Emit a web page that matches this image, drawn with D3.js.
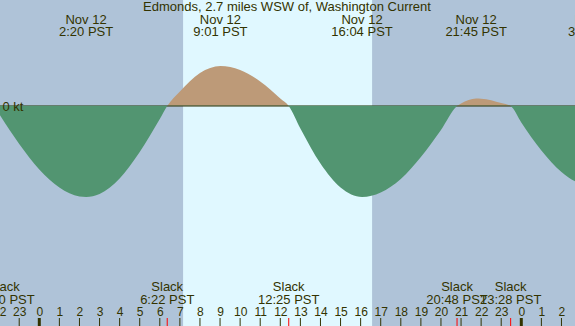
<!DOCTYPE html>
<html>
<head>
<meta charset="utf-8">
<script src="https://cdn.jsdelivr.net/npm/d3@7"></script>
<style>
  body { margin: 0; overflow: hidden; }
  text { font-family: "Liberation Sans", Arial, sans-serif; fill: #333300; }
</style>
</head>
<body>
<div id="chart"></div>
<script>
// hours since midnight Nov 12, current speed in knots
var hours  = [-2.25, -2, -1, 0, 1, 2, 2.33, 3, 4, 5, 6, 6.37, 7, 8, 9.02, 10, 11, 12, 12.42, 13, 14, 15, 16.07, 17, 18, 19, 20, 20.8, 21, 21.75, 22, 23, 23.47, 24, 25, 26, 27, 27.65, 28];
var speeds = [0, -0.16, -0.76, -1.27, -1.63, -1.81, -1.82, -1.76, -1.45, -0.92, -0.26, 0, 0.29, 0.66, 0.80, 0.72, 0.49, 0.15, 0, -0.45, -1.15, -1.63, -1.82, -1.73, -1.46, -1.02, -0.48, 0, 0.05, 0.15, 0.146, 0.06, 0, -0.33, -0.89, -1.32, -1.56, -1.6, -1.59];

// max flood / max ebb events (top labels)
var peakHours  = [2.33, 9.02, 16.07, 21.75, 27.68];
var peakDates  = ["Nov 12", "Nov 12", "Nov 12", "Nov 12", "Nov 13"];
var peakTimes  = ["2:20 PST", "9:01 PST", "16:04 PST", "21:45 PST", "3:41 PST"];

// slack events (bottom labels)
var slackHours = [-1.76, 6.37, 12.42, 20.8, 23.47];
var slackTimes = ["21:50 PST", "6:22 PST", "12:25 PST", "20:48 PST", "23:28 PST"];

var sunrise = 7.16, sunset = 16.57;
var tickHours = d3.range(-2, 27);

var title = "Edmonds, 2.7 miles WSW of, Washington Current";

var W = 575, H = 326;

var x = d3.scaleLinear().domain([0, 24]).range([39.3, 521.3]);
var y = d3.scaleLinear().domain([-2, 1]).range([206, 56]);

var svg = d3.select("#chart").append("svg")
    .attr("width", W)
    .attr("height", H);

// night / day background
svg.append("rect").attr("width", W).attr("height", H).attr("fill", "#afc3d8");
svg.append("rect")
    .attr("x", x(sunrise)).attr("y", 0)
    .attr("width", x(sunset) - x(sunrise)).attr("height", H)
    .attr("fill", "#e0f8ff");

var data = hours.map((h, i) => ({h: h, v: speeds[i]}));

var area = d3.area()
    .x(d => x(d.h))
    .y0(y(0))
    .y1(d => y(d.v))
    .curve(d3.curveMonotoneX);

var defs = svg.append("defs");
defs.append("clipPath").attr("id", "above")
    .append("rect").attr("x", 0).attr("y", 0).attr("width", W).attr("height", y(0));
defs.append("clipPath").attr("id", "below")
    .append("rect").attr("x", 0).attr("y", y(0) - 0.5).attr("width", W).attr("height", H);

// flood
svg.append("path")
    .attr("d", area(data))
    .attr("fill", "#bd9a78")
    .attr("clip-path", "url(#above)");

// zero line
svg.append("line")
    .attr("x1", 0).attr("x2", W)
    .attr("y1", y(0)).attr("y2", y(0))
    .attr("stroke", "#2a2a00")
    .attr("stroke-width", 1.2);

// ebb
svg.append("path")
    .attr("d", d3.area().x(d => x(d.h)).y0(y(0) - 0.5).y1(d => y(d.v)).curve(d3.curveMonotoneX)(data))
    .attr("fill", "#529571")
    .attr("clip-path", "url(#below)");

svg.append("text")
    .attr("x", 2.5).attr("y", y(0) + 4.5)
    .style("font-size", "13px")
    .text("0 kt");

// title
svg.append("text")
    .attr("x", 287).attr("y", 11)
    .attr("text-anchor", "middle")
    .style("font-size", "13px")
    .text(title);

// peak labels
peakHours.forEach((h, i) => {
    svg.append("text")
        .attr("x", x(h)).attr("y", 24)
        .attr("text-anchor", "middle")
        .style("font-size", "13px")
        .text(peakDates[i]);
    svg.append("text")
        .attr("x", x(h)).attr("y", 35.5)
        .attr("text-anchor", "middle")
        .style("font-size", "13px")
        .text(peakTimes[i]);
});

// slack labels
slackHours.forEach((h, i) => {
    svg.append("text")
        .attr("x", x(h)).attr("y", 291)
        .attr("text-anchor", "middle")
        .style("font-size", "13px")
        .text("Slack");
    svg.append("text")
        .attr("x", x(h)).attr("y", 303.5)
        .attr("text-anchor", "middle")
        .style("font-size", "13px")
        .text(slackTimes[i]);
});

// hour axis
var axis = d3.axisBottom(x)
    .tickValues(tickHours)
    .tickSize(0)
    .tickFormat(d => ((d % 24) + 24) % 24);
var gAxis = svg.append("g").attr("transform", "translate(0,304)").call(axis);
gAxis.select(".domain").remove();
gAxis.selectAll("text")
    .attr("y", 12)
    .attr("dy", 0)
    .style("font-size", "12px")
    .style("font-family", "'Liberation Sans', Arial, sans-serif")
    .attr("fill", "#333300");

svg.selectAll(".hourtick")
    .data(tickHours)
    .join("line")
    .attr("class", "hourtick")
    .attr("x1", d => x(d)).attr("x2", d => x(d))
    .attr("y1", 318).attr("y2", H)
    .attr("stroke", "#333300")
    .attr("stroke-width", d => (d % 24 === 0) ? 3 : 1);

svg.selectAll(".slacktick")
    .data(slackHours.slice(1))
    .join("line")
    .attr("class", "slacktick")
    .attr("x1", d => x(d)).attr("x2", d => x(d))
    .attr("y1", 318).attr("y2", H)
    .attr("stroke", "#ff0000")
    .attr("stroke-width", 1);
</script>
</body>
</html>
